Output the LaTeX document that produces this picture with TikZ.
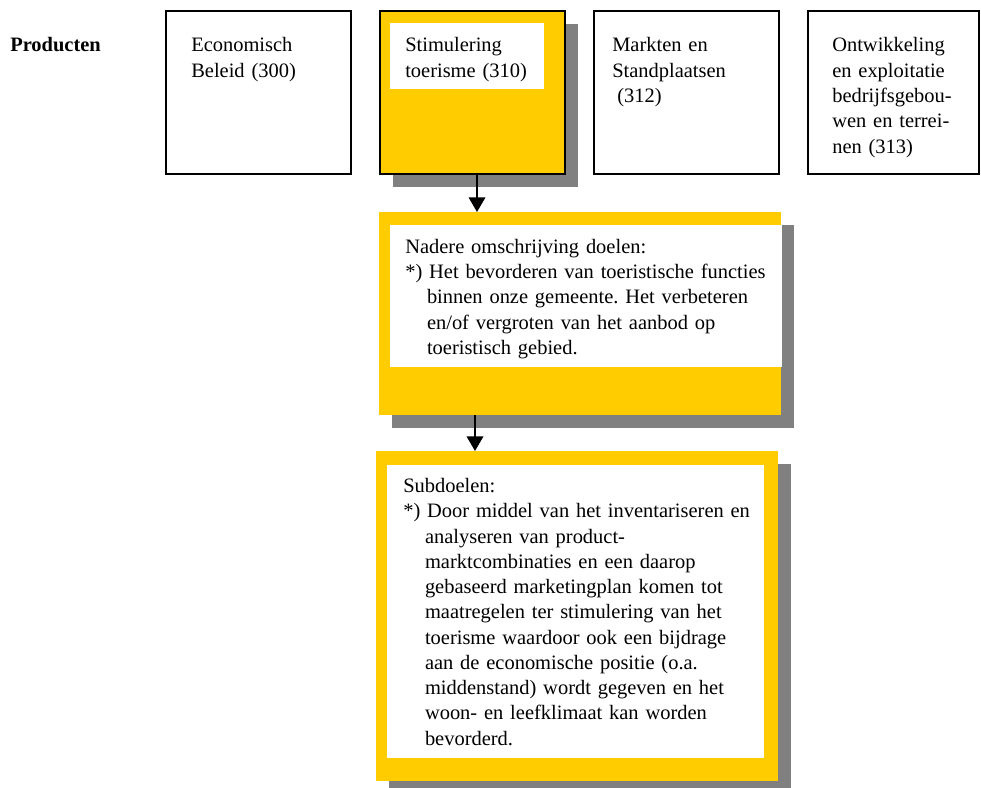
\documentclass[tikz,border=0pt]{standalone}
\usepackage{fontspec}
\setmainfont{Liberation Serif}
\usetikzlibrary{shadows,arrows.meta}
\definecolor{doelgeel}{HTML}{FFCC00}
\definecolor{schaduw}{HTML}{808080}
\newcommand{\pxl}{0.75pt}
\newcommand{\inspr}{\hspace*{16.3pt}}
\frenchspacing
\tikzset{
  vak/.style={anchor=north west, inner sep=0pt, outer sep=0pt},
  product/.style={vak, draw, line width=1pt},
  geel/.style={vak, fill=doelgeel, drop shadow={shadow xshift=9.75pt, shadow yshift=-9.75pt, fill=schaduw, opacity=1}},
  wit/.style={vak, fill=white},
  tekst/.style={anchor=base west, inner sep=0pt, align=left, text width=300pt, font=\fontsize{15.35}{18.94}\selectfont},
  pijl/.style={line width=1pt, -{Triangle[width=12.5pt, length=11pt]}},
}
\begin{document}
\begin{tikzpicture}[x=0.75pt, y=-0.75pt]
  \useasboundingbox (0,0) rectangle (981,788);
  % bovenste rij: producten
  \node[tekst, font=\fontsize{15.35}{18.94}\selectfont\bfseries] (producten) at (10,52) {Producten};
  \node[product, minimum width=185*\pxl, minimum height=163*\pxl] (econ) at (166,11) {};
  \node[product, geel, minimum width=185*\pxl, minimum height=163*\pxl] (stim) at (380,11) {};
  \node[wit, minimum width=154*\pxl, minimum height=66*\pxl] (stimwit) at (390,23) {};
  \node[product, minimum width=185*\pxl, minimum height=163*\pxl] (markt) at (594,11) {};
  \node[product, minimum width=171*\pxl, minimum height=163*\pxl] (ontw) at (808,11) {};
  \node[tekst] (econtekst) at (191,52) {Economisch\\Beleid (300)};
  \node[tekst] (stimtekst) at (405,52) {Stimulering\\toerisme (310)};
  \node[tekst] (markttekst) at (612,52) {Markten en\\Standplaatsen\\\hspace*{0.25em}(312)};
  \node[tekst] (ontwtekst) at (832,52) {Ontwikkeling\\en exploitatie\\bedrijfsgebou-\\wen en terrei-\\nen (313)};
  % doelen
  \node[geel, minimum width=402*\pxl, minimum height=203*\pxl] (doel) at (379,212) {};
  \node[wit, minimum width=392*\pxl, minimum height=142*\pxl] (doelwit) at (390,225) {};
  \node[tekst] (doeltekst) at (405,253.3) {Nadere omschrijving doelen:\\
    {*}) Het bevorderen van toeristische functies\\
    \inspr binnen onze gemeente. Het verbeteren\\
    \inspr en/of vergroten van het aanbod op\\
    \inspr toeristisch gebied.};
  % subdoelen
  \node[geel, minimum width=402*\pxl, minimum height=330*\pxl] (sub) at (376,451) {};
  \node[wit, minimum width=377*\pxl, minimum height=293*\pxl] (subwit) at (387,465) {};
  \node[tekst] (subtekst) at (403,492.7) {Subdoelen:\\
    {*}) Door middel van het inventariseren en\\
    \inspr analyseren van product-\\
    \inspr marktcombinaties en een daarop\\
    \inspr gebaseerd marketingplan komen tot\\
    \inspr maatregelen ter stimulering van het\\
    \inspr toerisme waardoor ook een bijdrage\\
    \inspr aan de economische positie (o.a.\\
    \inspr middenstand) wordt gegeven en het\\
    \inspr woon- en leefklimaat kan worden\\
    \inspr bevorderd.};
  % pijlen
  \draw[pijl] ([xshift=4.5*\pxl]stim.south) -- ([xshift=4.5*\pxl]stim.south |- doel.north);
  \draw[pijl] ([xshift=96*\pxl]doel.south west) -- ([xshift=96*\pxl]doel.south west |- sub.north);
\end{tikzpicture}
\end{document}
